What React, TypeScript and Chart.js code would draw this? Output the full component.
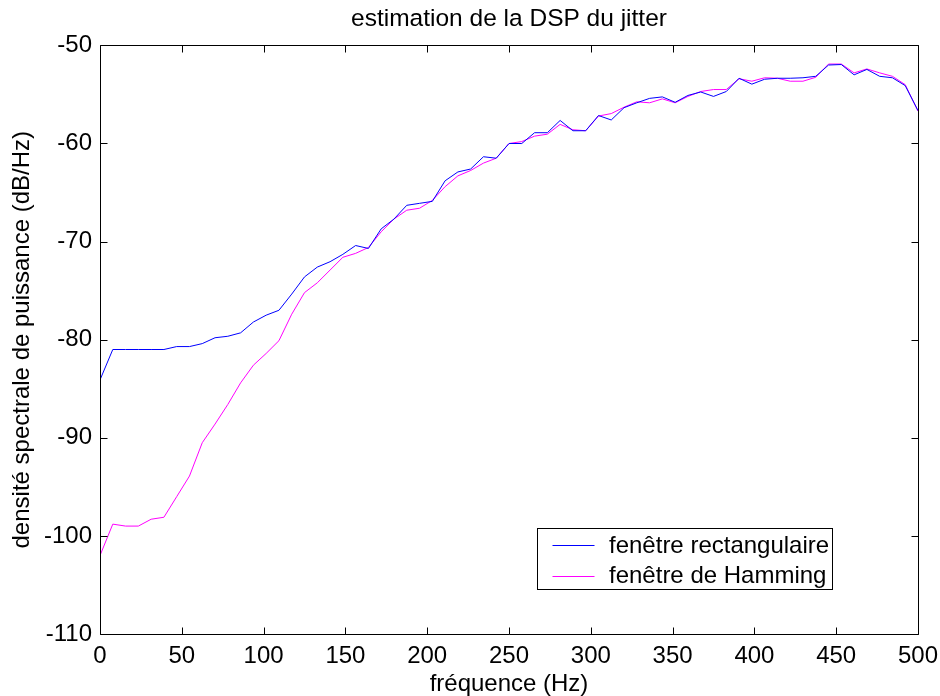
import { useEffect, useRef } from "react";
import { Chart, registerables } from "chart.js";

Chart.register(...registerables);

const TITLE = "estimation de la DSP du jitter";
const X_LABEL = "fréquence (Hz)";
const Y_LABEL = "densité spectrale de puissance (dB/Hz)";
const SERIES_LABELS = ["fenêtre rectangulaire", "fenêtre de Hamming"];
const SERIES_COLORS = ["#0000ff", "#ff00ff"];

const X_TICKS = [0, 50, 100, 150, 200, 250, 300, 350, 400, 450, 500];
const Y_TICKS = [-110, -100, -90, -80, -70, -60, -50];

const FREQ_HZ = [
  0, 7.8125, 15.625, 23.4375, 31.25, 39.0625, 46.875, 54.6875, 62.5, 70.3125,
  78.125, 85.9375, 93.75, 101.5625, 109.375, 117.1875, 125, 132.8125, 140.625,
  148.4375, 156.25, 164.0625, 171.875, 179.6875, 187.5, 195.3125, 203.125,
  210.9375, 218.75, 226.5625, 234.375, 242.1875, 250, 257.8125, 265.625,
  273.4375, 281.25, 289.0625, 296.875, 304.6875, 312.5, 320.3125, 328.125,
  335.9375, 343.75, 351.5625, 359.375, 367.1875, 375, 382.8125, 390.625,
  398.4375, 406.25, 414.0625, 421.875, 429.6875, 437.5, 445.3125, 453.125,
  460.9375, 468.75, 476.5625, 484.375, 492.1875, 500,
];

const RECT_DB = [
  -84.1, -81.0, -81.0, -81.0, -81.0, -81.0, -80.7, -80.7, -80.4, -79.8,
  -79.65, -79.3, -78.2, -77.5, -77.0, -75.35, -73.6, -72.6, -72.05, -71.3,
  -70.4, -70.7, -68.7, -67.7, -66.3, -66.1, -65.9, -63.8, -62.9, -62.6,
  -61.35, -61.5, -60.0, -60.0, -58.9, -58.9, -57.65, -58.7, -58.7, -57.15,
  -57.6, -56.35, -55.85, -55.4, -55.25, -55.8, -55.1, -54.75, -55.2, -54.7,
  -53.35, -53.95, -53.45, -53.35, -53.35, -53.3, -53.15, -52.0, -51.95, -53.0,
  -52.45, -53.15, -53.3, -54.1, -56.65,
];

const HAMMING_DB = [
  -102.0, -98.8, -99.0, -99.0, -98.3, -98.1, -96.0, -93.9, -90.5, -88.6,
  -86.6, -84.4, -82.6, -81.4, -80.1, -77.4, -75.2, -74.2, -72.9, -71.6,
  -71.2, -70.6, -69.0, -67.7, -66.8, -66.6, -65.8, -64.4, -63.3, -62.75,
  -62.0, -61.5, -60.0, -59.8, -59.25, -59.05, -58.05, -58.6, -58.7, -57.2,
  -56.95, -56.3, -55.75, -55.85, -55.45, -55.85, -55.2, -54.7, -54.5, -54.5,
  -53.4, -53.65, -53.3, -53.35, -53.65, -53.65, -53.25, -51.9, -51.9, -52.8,
  -52.4, -52.8, -53.15, -54.0, -56.7,
];

const FAMILY = "'Liberation Sans', Arial, Helvetica, sans-serif";
const FONT_SIZE = 24;

const framePlugin = {
  id: "matlabFrame",
  afterDatasetsDraw(chart: any) {
    const { ctx, chartArea: a, scales } = chart;
    const xs = scales.x;
    const ys = scales.y;
    const L = Math.round(a.left) + 0.5;
    const R = Math.round(a.right) + 0.5;
    const T = Math.round(a.top) + 0.5;
    const B = Math.round(a.bottom) + 0.5;
    const tick = 7;
    ctx.save();
    ctx.strokeStyle = "#000";
    ctx.lineWidth = 1;
    ctx.beginPath();
    ctx.rect(L, T, R - L, B - T);
    for (const v of X_TICKS) {
      const px = Math.round(xs.getPixelForValue(v)) + 0.5;
      ctx.moveTo(px, B);
      ctx.lineTo(px, B - tick);
      ctx.moveTo(px, T);
      ctx.lineTo(px, T + tick);
    }
    for (const v of Y_TICKS) {
      const py = Math.round(ys.getPixelForValue(v)) + 0.5;
      ctx.moveTo(L, py);
      ctx.lineTo(L + tick, py);
      ctx.moveTo(R, py);
      ctx.lineTo(R - tick, py);
    }
    ctx.stroke();

    // legend box (inside the axes, lower right)
    const bw = 295;
    const bh = 61;
    const bx = Math.round(a.right - 86 - bw) + 0.5;
    const by = Math.round(a.bottom - 45 - bh) + 0.5;
    ctx.fillStyle = "#fff";
    ctx.fillRect(bx, by, bw, bh);
    ctx.strokeStyle = "#000";
    ctx.strokeRect(bx, by, bw, bh);
    ctx.font = `${FONT_SIZE}px ${FAMILY}`;
    ctx.textBaseline = "middle";
    ctx.textAlign = "left";
    SERIES_LABELS.forEach((label, i) => {
      const cy = by + 16.5 + i * 30.5;
      ctx.strokeStyle = SERIES_COLORS[i];
      ctx.beginPath();
      ctx.moveTo(bx + 15, Math.round(cy) + 0.5);
      ctx.lineTo(bx + 57, Math.round(cy) + 0.5);
      ctx.stroke();
      ctx.fillStyle = "#000";
      ctx.fillText(label, bx + 71.5, cy + 1);
    });
    ctx.restore();
  },
};

export default function App() {
  const ref = useRef<HTMLCanvasElement | null>(null);

  useEffect(() => {
    if (!ref.current) return;
    const font = { family: FAMILY, size: FONT_SIZE, weight: "normal" as const };
    const chart = new Chart(ref.current, {
      type: "line",
      data: {
        datasets: [
          {
            label: SERIES_LABELS[0],
            data: FREQ_HZ.map((f, i) => ({ x: f, y: RECT_DB[i] })),
            borderColor: SERIES_COLORS[0],
            backgroundColor: SERIES_COLORS[0],
            borderWidth: 1,
            pointRadius: 0,
            tension: 0,
            fill: false,
          },
          {
            label: SERIES_LABELS[1],
            data: FREQ_HZ.map((f, i) => ({ x: f, y: HAMMING_DB[i] })),
            borderColor: SERIES_COLORS[1],
            backgroundColor: SERIES_COLORS[1],
            borderWidth: 1,
            pointRadius: 0,
            tension: 0,
            fill: false,
          },
        ],
      },
      options: {
        animation: false,
        responsive: false,
        maintainAspectRatio: false,
        events: [],
        layout: { padding: { top: 0, right: 22, bottom: 0, left: 0 } },
        plugins: {
          legend: { display: false },
          tooltip: { enabled: false },
          title: {
            display: true,
            fullSize: false,
            text: TITLE,
            color: "#000",
            font: { ...font, size: 24.5, lineHeight: 1.2 },
            padding: { top: 5, bottom: 11 },
          },
        },
        scales: {
          x: {
            type: "linear",
            min: 0,
            max: 500,
            afterBuildTicks: (s: any) => {
              s.ticks = X_TICKS.map((v) => ({ value: v }));
            },
            afterFit: (s: any) => {
              s.height = 62;
              s.paddingLeft = 0;
              s.paddingRight = 0;
            },
            grid: { display: false, drawTicks: false },
            border: { display: false },
            ticks: {
              color: "#000",
              font,
              padding: 8,
              maxRotation: 0,
              autoSkip: false,
            },
            title: {
              display: true,
              text: X_LABEL,
              color: "#000",
              font: { ...font, lineHeight: 1 },
              padding: { top: 0, bottom: 0 },
            },
          },
          y: {
            type: "linear",
            min: -110,
            max: -50,
            afterBuildTicks: (s: any) => {
              s.ticks = Y_TICKS.map((v) => ({ value: v }));
            },
            afterFit: (s: any) => {
              s.width = 100;
            },
            grid: { display: false, drawTicks: false },
            border: { display: false },
            ticks: {
              color: "#000",
              font,
              padding: 8,
              autoSkip: false,
            },
            title: {
              display: true,
              text: Y_LABEL,
              color: "#000",
              font: { ...font, lineHeight: 1 },
              padding: { top: 10, bottom: 0 },
            },
          },
        },
      },
      plugins: [framePlugin],
    });
    return () => chart.destroy();
  }, []);

  return (
    <div style={{ position: "fixed", left: 0, top: 0, width: 940, height: 696, background: "#fff" }}>
      <canvas ref={ref} width={940} height={696} style={{ width: 940, height: 696, display: "block" }} />
    </div>
  );
}
